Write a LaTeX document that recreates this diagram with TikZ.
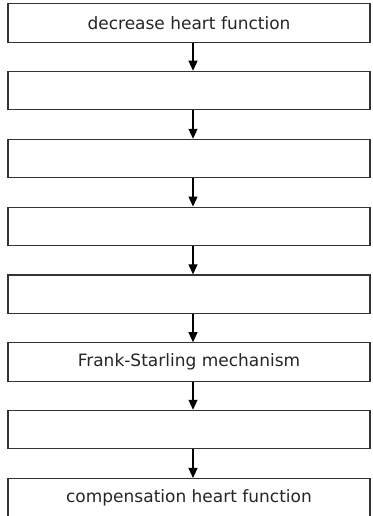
\documentclass[tikz,border=0pt]{standalone}
\usepackage{fontspec}
\setmainfont{DejaVu Sans}
\usetikzlibrary{arrows.meta}
\begin{document}
\begin{tikzpicture}[x=1pt,y=-1pt,
  flowbox/.style={draw=black!80, line width=1.2pt, fill=white, minimum width=362pt, minimum height=38.5pt, inner sep=0pt, font=\fontsize{17}{19}\selectfont, text=black!85},
  flowarrow/.style={draw=black, line width=1.1pt, -{Triangle[width=9pt,length=10pt]}}]
\useasboundingbox (0,0) rectangle (372,516);
\fill[white] (0,0) rectangle (372,516);
\node[flowbox] (b1) at (189,23) {decrease heart function};
\node[flowbox] (b2) at (189,90.6) {};
\node[flowbox] (b3) at (189,158.6) {};
\node[flowbox] (b4) at (189,226.4) {};
\node[flowbox] (b5) at (189,294.2) {};
\node[flowbox] (b6) at (189,362) {Frank-Starling mechanism};
\node[flowbox] (b7) at (189,429.6) {};
\node[flowbox] (b8) at (189,497.8) {compensation heart function};
\foreach \a/\b in {b1/b2,b2/b3,b3/b4,b4/b5,b5/b6,b6/b7,b7/b8}
  \draw[flowarrow] ([xshift=4pt]\a.south) -- ([xshift=4pt]\b.north);
\end{tikzpicture}
\end{document}
